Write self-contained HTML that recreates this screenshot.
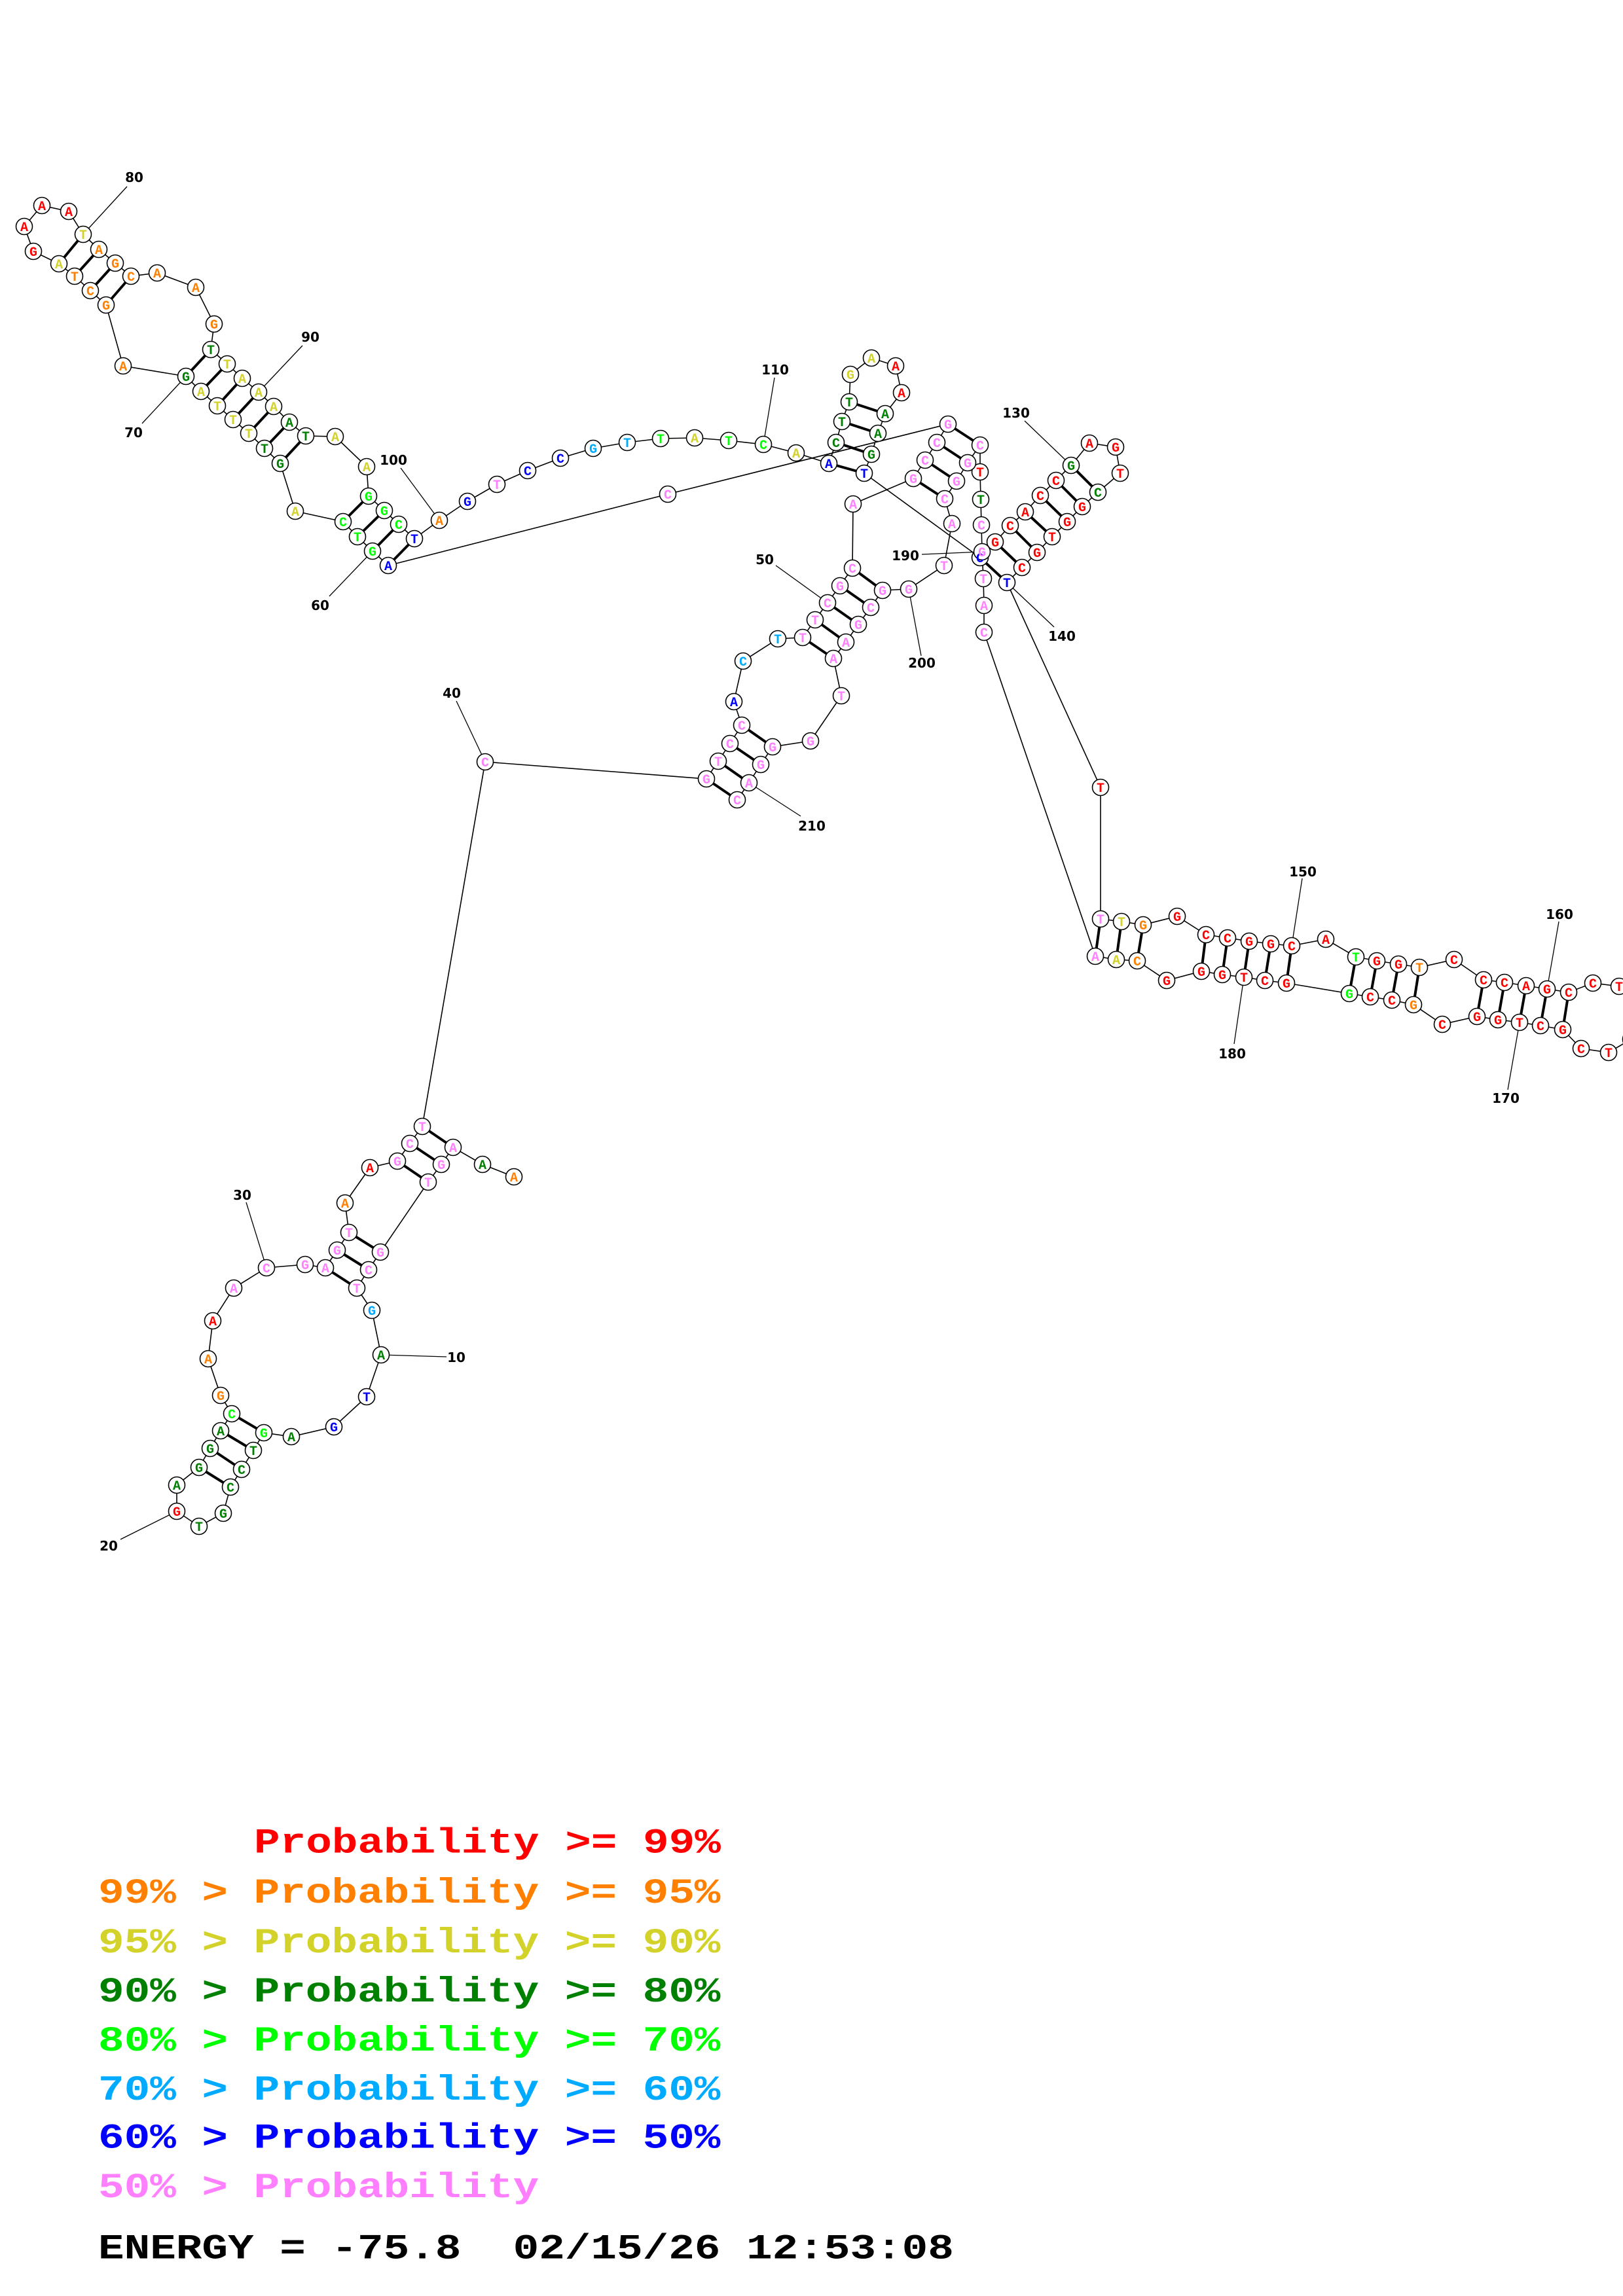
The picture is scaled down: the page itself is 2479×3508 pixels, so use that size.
<!DOCTYPE html>
<html><head><meta charset="utf-8"><style>
html,body{margin:0;padding:0;background:#fff;}
svg{display:block;}
.n{font-family:"Liberation Mono",monospace;font-weight:bold;font-size:20px;text-anchor:middle;}
.lb{font-family:"DejaVu Sans","Liberation Sans",sans-serif;font-weight:bold;font-size:20px;text-anchor:middle;fill:#000;}
.lg{font-family:"Liberation Mono",monospace;font-weight:bold;font-size:66px;white-space:pre;}
.R{fill:#ff0000}.O{fill:#ff8000}.Y{fill:#d2d22a}.D{fill:#008000}.G{fill:#00ff00}.C{fill:#00aaff}.B{fill:#0000ff}.P{fill:#ff80ff}.K{fill:#000}
</style></head><body>
<svg width="2479" height="3508" viewBox="0 0 2479 3508" xmlns="http://www.w3.org/2000/svg">
<rect width="2479" height="3508" fill="#fff"/>
<polyline fill="none" stroke="#000" stroke-width="1.6" points="785,1798 737,1779 692,1753 674,1779 654,1806 581,1913 563,1940 545,1968 568,2002 582,2070 560,2134 510,2180 445,2195 403,2189 387,2216 369,2245 352,2272 341,2312 304,2332 270,2309 270,2269 304,2242 321,2213 337,2186 354,2160 337,2132 318,2076 325,2018 357,1968 407,1937 466,1932 497,1937 515,1910 533,1883 527,1838 565,1784 607,1774 626,1747 645,1721 741,1164 1079,1190 1097,1163 1115,1136 1133,1108 1121,1072 1135,1010 1188,976 1226,974 1245,947 1264,921 1283,895 1302,868 1303,770 1395,731 1413,703 1431,676 1448,648 1020,755 593,864 569,842 546,820 524,797 451,781 428,708 404,685 380,662 356,641 332,620 307,598 284,575 188,559 162,466 138,444 114,422 90,403 51,384 37,346 64,314 105,323 127,358 151,381 176,402 200,422 240,417 299,439 327,495 322,534 347,556 370,578 395,599 418,621 442,645 467,666 512,667 560,713 563,758 587,780 609,801 633,823 671,795 714,766 759,740 806,719 856,700 906,685 958,676 1009,670 1061,669 1113,673 1166,679 1216,692 1266,708 1277,676 1286,644 1297,614 1299,572 1331,547 1368,559 1377,600 1352,632 1341,662 1331,694 1320,723 1497,852 1520,828 1543,803 1566,782 1589,757 1613,734 1636,711 1664,677 1704,683 1711,723 1677,752 1653,774 1630,797 1607,820 1584,844 1561,867 1538,890 1681,1203 1681,1404 1713,1408 1746,1413 1798,1400 1842,1428 1875,1433 1908,1438 1941,1442 1973,1445 2025,1435 2071,1462 2103,1468 2136,1473 2168,1478 2221,1466 2266,1497 2298,1501 2331,1506 2363,1511 2396,1516 2433,1502 2473,1507 2500,1545 2491,1588 2457,1608 2415,1602 2387,1573 2353,1567 2321,1562 2288,1558 2256,1553 2203,1565 2159,1535 2126,1528 2093,1523 2061,1518 1965,1502 1932,1498 1900,1493 1867,1489 1835,1484 1782,1498 1737,1468 1705,1466 1673,1461 1503,966 1503,925 1502,884 1500,843 1499,802 1498,763 1497,721 1497,680 1478,707 1461,735 1443,762 1454,800 1442,864 1388,900 1348,902 1330,928 1311,954 1292,981 1273,1006 1285,1063 1238,1132 1180,1141 1162,1168 1144,1196 1126,1222"/>
<path fill="none" stroke="#000" stroke-width="4" d="M692,1753L645,1721M674,1779L626,1747M654,1806L607,1774M581,1913L533,1883M563,1940L515,1910M545,1968L497,1937M403,2189L354,2160M387,2216L337,2186M369,2245L321,2213M352,2272L304,2242M1079,1190L1126,1222M1097,1163L1144,1196M1115,1136L1162,1168M1133,1108L1180,1141M1226,974L1273,1006M1245,947L1292,981M1264,921L1311,954M1283,895L1330,928M1302,868L1348,902M1395,731L1443,762M1413,703L1461,735M1431,676L1478,707M1448,648L1497,680M593,864L633,823M569,842L609,801M546,820L587,780M524,797L563,758M428,708L467,666M404,685L442,645M380,662L418,621M356,641L395,599M332,620L370,578M307,598L347,556M284,575L322,534M162,466L200,422M138,444L176,402M114,422L151,381M90,403L127,358M1266,708L1320,723M1277,676L1331,694M1286,644L1341,662M1297,614L1352,632M1497,852L1538,890M1520,828L1561,867M1543,803L1584,844M1566,782L1607,820M1589,757L1630,797M1613,734L1653,774M1636,711L1677,752M1681,1404L1673,1461M1713,1408L1705,1466M1746,1413L1737,1468M1842,1428L1835,1484M1875,1433L1867,1489M1908,1438L1900,1493M1941,1442L1932,1498M1973,1445L1965,1502M2071,1462L2061,1518M2103,1468L2093,1523M2136,1473L2126,1528M2168,1478L2159,1535M2266,1497L2256,1553M2298,1501L2288,1558M2331,1506L2321,1562M2363,1511L2353,1567M2396,1516L2387,1573"/>
<path fill="none" stroke="#000" stroke-width="1.3" d="M582,2070L682,2073M270,2309L184,2352M407,1937L376,1837M741,1164L697,1071M1264,921L1185,864M569,842L503,911M284,575L217,647M127,358L194,285M395,599L462,528M671,795L612,715M1166,679L1183,577M1636,711L1565,643M1538,890L1610,958M1973,1445L1989,1342M2363,1511L2381,1408M2321,1562L2303,1665M1900,1493L1885,1595M1500,843L1408,847M1388,900L1407,1002M1144,1196L1223,1247"/>
<g fill="#fff" stroke="#000" stroke-width="1.6">
<circle cx="785" cy="1798" r="12.5"/><circle cx="737" cy="1779" r="12.5"/><circle cx="692" cy="1753" r="12.5"/><circle cx="674" cy="1779" r="12.5"/><circle cx="654" cy="1806" r="12.5"/><circle cx="581" cy="1913" r="12.5"/><circle cx="563" cy="1940" r="12.5"/><circle cx="545" cy="1968" r="12.5"/><circle cx="568" cy="2002" r="12.5"/><circle cx="582" cy="2070" r="12.5"/>
<circle cx="560" cy="2134" r="12.5"/><circle cx="510" cy="2180" r="12.5"/><circle cx="445" cy="2195" r="12.5"/><circle cx="403" cy="2189" r="12.5"/><circle cx="387" cy="2216" r="12.5"/><circle cx="369" cy="2245" r="12.5"/><circle cx="352" cy="2272" r="12.5"/><circle cx="341" cy="2312" r="12.5"/><circle cx="304" cy="2332" r="12.5"/><circle cx="270" cy="2309" r="12.5"/>
<circle cx="270" cy="2269" r="12.5"/><circle cx="304" cy="2242" r="12.5"/><circle cx="321" cy="2213" r="12.5"/><circle cx="337" cy="2186" r="12.5"/><circle cx="354" cy="2160" r="12.5"/><circle cx="337" cy="2132" r="12.5"/><circle cx="318" cy="2076" r="12.5"/><circle cx="325" cy="2018" r="12.5"/><circle cx="357" cy="1968" r="12.5"/><circle cx="407" cy="1937" r="12.5"/>
<circle cx="466" cy="1932" r="12.5"/><circle cx="497" cy="1937" r="12.5"/><circle cx="515" cy="1910" r="12.5"/><circle cx="533" cy="1883" r="12.5"/><circle cx="527" cy="1838" r="12.5"/><circle cx="565" cy="1784" r="12.5"/><circle cx="607" cy="1774" r="12.5"/><circle cx="626" cy="1747" r="12.5"/><circle cx="645" cy="1721" r="12.5"/><circle cx="741" cy="1164" r="12.5"/>
<circle cx="1079" cy="1190" r="12.5"/><circle cx="1097" cy="1163" r="12.5"/><circle cx="1115" cy="1136" r="12.5"/><circle cx="1133" cy="1108" r="12.5"/><circle cx="1121" cy="1072" r="12.5"/><circle cx="1135" cy="1010" r="12.5"/><circle cx="1188" cy="976" r="12.5"/><circle cx="1226" cy="974" r="12.5"/><circle cx="1245" cy="947" r="12.5"/><circle cx="1264" cy="921" r="12.5"/>
<circle cx="1283" cy="895" r="12.5"/><circle cx="1302" cy="868" r="12.5"/><circle cx="1303" cy="770" r="12.5"/><circle cx="1395" cy="731" r="12.5"/><circle cx="1413" cy="703" r="12.5"/><circle cx="1431" cy="676" r="12.5"/><circle cx="1448" cy="648" r="12.5"/><circle cx="1020" cy="755" r="12.5"/><circle cx="593" cy="864" r="12.5"/><circle cx="569" cy="842" r="12.5"/>
<circle cx="546" cy="820" r="12.5"/><circle cx="524" cy="797" r="12.5"/><circle cx="451" cy="781" r="12.5"/><circle cx="428" cy="708" r="12.5"/><circle cx="404" cy="685" r="12.5"/><circle cx="380" cy="662" r="12.5"/><circle cx="356" cy="641" r="12.5"/><circle cx="332" cy="620" r="12.5"/><circle cx="307" cy="598" r="12.5"/><circle cx="284" cy="575" r="12.5"/>
<circle cx="188" cy="559" r="12.5"/><circle cx="162" cy="466" r="12.5"/><circle cx="138" cy="444" r="12.5"/><circle cx="114" cy="422" r="12.5"/><circle cx="90" cy="403" r="12.5"/><circle cx="51" cy="384" r="12.5"/><circle cx="37" cy="346" r="12.5"/><circle cx="64" cy="314" r="12.5"/><circle cx="105" cy="323" r="12.5"/><circle cx="127" cy="358" r="12.5"/>
<circle cx="151" cy="381" r="12.5"/><circle cx="176" cy="402" r="12.5"/><circle cx="200" cy="422" r="12.5"/><circle cx="240" cy="417" r="12.5"/><circle cx="299" cy="439" r="12.5"/><circle cx="327" cy="495" r="12.5"/><circle cx="322" cy="534" r="12.5"/><circle cx="347" cy="556" r="12.5"/><circle cx="370" cy="578" r="12.5"/><circle cx="395" cy="599" r="12.5"/>
<circle cx="418" cy="621" r="12.5"/><circle cx="442" cy="645" r="12.5"/><circle cx="467" cy="666" r="12.5"/><circle cx="512" cy="667" r="12.5"/><circle cx="560" cy="713" r="12.5"/><circle cx="563" cy="758" r="12.5"/><circle cx="587" cy="780" r="12.5"/><circle cx="609" cy="801" r="12.5"/><circle cx="633" cy="823" r="12.5"/><circle cx="671" cy="795" r="12.5"/>
<circle cx="714" cy="766" r="12.5"/><circle cx="759" cy="740" r="12.5"/><circle cx="806" cy="719" r="12.5"/><circle cx="856" cy="700" r="12.5"/><circle cx="906" cy="685" r="12.5"/><circle cx="958" cy="676" r="12.5"/><circle cx="1009" cy="670" r="12.5"/><circle cx="1061" cy="669" r="12.5"/><circle cx="1113" cy="673" r="12.5"/><circle cx="1166" cy="679" r="12.5"/>
<circle cx="1216" cy="692" r="12.5"/><circle cx="1266" cy="708" r="12.5"/><circle cx="1277" cy="676" r="12.5"/><circle cx="1286" cy="644" r="12.5"/><circle cx="1297" cy="614" r="12.5"/><circle cx="1299" cy="572" r="12.5"/><circle cx="1331" cy="547" r="12.5"/><circle cx="1368" cy="559" r="12.5"/><circle cx="1377" cy="600" r="12.5"/><circle cx="1352" cy="632" r="12.5"/>
<circle cx="1341" cy="662" r="12.5"/><circle cx="1331" cy="694" r="12.5"/><circle cx="1320" cy="723" r="12.5"/><circle cx="1497" cy="852" r="12.5"/><circle cx="1520" cy="828" r="12.5"/><circle cx="1543" cy="803" r="12.5"/><circle cx="1566" cy="782" r="12.5"/><circle cx="1589" cy="757" r="12.5"/><circle cx="1613" cy="734" r="12.5"/><circle cx="1636" cy="711" r="12.5"/>
<circle cx="1664" cy="677" r="12.5"/><circle cx="1704" cy="683" r="12.5"/><circle cx="1711" cy="723" r="12.5"/><circle cx="1677" cy="752" r="12.5"/><circle cx="1653" cy="774" r="12.5"/><circle cx="1630" cy="797" r="12.5"/><circle cx="1607" cy="820" r="12.5"/><circle cx="1584" cy="844" r="12.5"/><circle cx="1561" cy="867" r="12.5"/><circle cx="1538" cy="890" r="12.5"/>
<circle cx="1681" cy="1203" r="12.5"/><circle cx="1681" cy="1404" r="12.5"/><circle cx="1713" cy="1408" r="12.5"/><circle cx="1746" cy="1413" r="12.5"/><circle cx="1798" cy="1400" r="12.5"/><circle cx="1842" cy="1428" r="12.5"/><circle cx="1875" cy="1433" r="12.5"/><circle cx="1908" cy="1438" r="12.5"/><circle cx="1941" cy="1442" r="12.5"/><circle cx="1973" cy="1445" r="12.5"/>
<circle cx="2025" cy="1435" r="12.5"/><circle cx="2071" cy="1462" r="12.5"/><circle cx="2103" cy="1468" r="12.5"/><circle cx="2136" cy="1473" r="12.5"/><circle cx="2168" cy="1478" r="12.5"/><circle cx="2221" cy="1466" r="12.5"/><circle cx="2266" cy="1497" r="12.5"/><circle cx="2298" cy="1501" r="12.5"/><circle cx="2331" cy="1506" r="12.5"/><circle cx="2363" cy="1511" r="12.5"/>
<circle cx="2396" cy="1516" r="12.5"/><circle cx="2433" cy="1502" r="12.5"/><circle cx="2473" cy="1507" r="12.5"/><circle cx="2500" cy="1545" r="12.5"/><circle cx="2491" cy="1588" r="12.5"/><circle cx="2457" cy="1608" r="12.5"/><circle cx="2415" cy="1602" r="12.5"/><circle cx="2387" cy="1573" r="12.5"/><circle cx="2353" cy="1567" r="12.5"/><circle cx="2321" cy="1562" r="12.5"/>
<circle cx="2288" cy="1558" r="12.5"/><circle cx="2256" cy="1553" r="12.5"/><circle cx="2203" cy="1565" r="12.5"/><circle cx="2159" cy="1535" r="12.5"/><circle cx="2126" cy="1528" r="12.5"/><circle cx="2093" cy="1523" r="12.5"/><circle cx="2061" cy="1518" r="12.5"/><circle cx="1965" cy="1502" r="12.5"/><circle cx="1932" cy="1498" r="12.5"/><circle cx="1900" cy="1493" r="12.5"/>
<circle cx="1867" cy="1489" r="12.5"/><circle cx="1835" cy="1484" r="12.5"/><circle cx="1782" cy="1498" r="12.5"/><circle cx="1737" cy="1468" r="12.5"/><circle cx="1705" cy="1466" r="12.5"/><circle cx="1673" cy="1461" r="12.5"/><circle cx="1503" cy="966" r="12.5"/><circle cx="1503" cy="925" r="12.5"/><circle cx="1502" cy="884" r="12.5"/><circle cx="1500" cy="843" r="12.5"/>
<circle cx="1499" cy="802" r="12.5"/><circle cx="1498" cy="763" r="12.5"/><circle cx="1497" cy="721" r="12.5"/><circle cx="1497" cy="680" r="12.5"/><circle cx="1478" cy="707" r="12.5"/><circle cx="1461" cy="735" r="12.5"/><circle cx="1443" cy="762" r="12.5"/><circle cx="1454" cy="800" r="12.5"/><circle cx="1442" cy="864" r="12.5"/><circle cx="1388" cy="900" r="12.5"/>
<circle cx="1348" cy="902" r="12.5"/><circle cx="1330" cy="928" r="12.5"/><circle cx="1311" cy="954" r="12.5"/><circle cx="1292" cy="981" r="12.5"/><circle cx="1273" cy="1006" r="12.5"/><circle cx="1285" cy="1063" r="12.5"/><circle cx="1238" cy="1132" r="12.5"/><circle cx="1180" cy="1141" r="12.5"/><circle cx="1162" cy="1168" r="12.5"/><circle cx="1144" cy="1196" r="12.5"/>
<circle cx="1126" cy="1222" r="12.5"/>
</g>
<g class="n">
<text x="785" y="1805" class="O">A</text><text x="737" y="1786" class="D">A</text><text x="692" y="1760" class="P">A</text><text x="674" y="1786" class="P">G</text><text x="654" y="1813" class="P">T</text><text x="581" y="1920" class="P">G</text><text x="563" y="1947" class="P">C</text><text x="545" y="1975" class="P">T</text><text x="568" y="2009" class="C">G</text><text x="582" y="2077" class="D">A</text>
<text x="560" y="2141" class="B">T</text><text x="510" y="2187" class="B">G</text><text x="445" y="2202" class="D">A</text><text x="403" y="2196" class="G">G</text><text x="387" y="2223" class="D">T</text><text x="369" y="2252" class="D">C</text><text x="352" y="2279" class="D">C</text><text x="341" y="2319" class="D">G</text><text x="304" y="2339" class="D">T</text><text x="270" y="2316" class="R">G</text>
<text x="270" y="2276" class="D">A</text><text x="304" y="2249" class="D">G</text><text x="321" y="2220" class="D">G</text><text x="337" y="2193" class="D">A</text><text x="354" y="2167" class="G">C</text><text x="337" y="2139" class="O">G</text><text x="318" y="2083" class="O">A</text><text x="325" y="2025" class="R">A</text><text x="357" y="1975" class="P">A</text><text x="407" y="1944" class="P">C</text>
<text x="466" y="1939" class="P">G</text><text x="497" y="1944" class="P">A</text><text x="515" y="1917" class="P">G</text><text x="533" y="1890" class="P">T</text><text x="527" y="1845" class="O">A</text><text x="565" y="1791" class="R">A</text><text x="607" y="1781" class="P">G</text><text x="626" y="1754" class="P">C</text><text x="645" y="1728" class="P">T</text><text x="741" y="1171" class="P">C</text>
<text x="1079" y="1197" class="P">G</text><text x="1097" y="1170" class="P">T</text><text x="1115" y="1143" class="P">C</text><text x="1133" y="1115" class="P">C</text><text x="1121" y="1079" class="B">A</text><text x="1135" y="1017" class="C">C</text><text x="1188" y="983" class="C">T</text><text x="1226" y="981" class="P">T</text><text x="1245" y="954" class="P">T</text><text x="1264" y="928" class="P">C</text>
<text x="1283" y="902" class="P">G</text><text x="1302" y="875" class="P">C</text><text x="1303" y="777" class="P">A</text><text x="1395" y="738" class="P">G</text><text x="1413" y="710" class="P">C</text><text x="1431" y="683" class="P">C</text><text x="1448" y="655" class="P">G</text><text x="1020" y="762" class="P">C</text><text x="593" y="871" class="B">A</text><text x="569" y="849" class="G">G</text>
<text x="546" y="827" class="G">T</text><text x="524" y="804" class="G">C</text><text x="451" y="788" class="Y">A</text><text x="428" y="715" class="D">G</text><text x="404" y="692" class="D">T</text><text x="380" y="669" class="Y">T</text><text x="356" y="648" class="Y">T</text><text x="332" y="627" class="Y">T</text><text x="307" y="605" class="Y">A</text><text x="284" y="582" class="D">G</text>
<text x="188" y="566" class="O">A</text><text x="162" y="473" class="O">G</text><text x="138" y="451" class="O">C</text><text x="114" y="429" class="O">T</text><text x="90" y="410" class="Y">A</text><text x="51" y="391" class="R">G</text><text x="37" y="353" class="R">A</text><text x="64" y="321" class="R">A</text><text x="105" y="330" class="R">A</text><text x="127" y="365" class="Y">T</text>
<text x="151" y="388" class="O">A</text><text x="176" y="409" class="O">G</text><text x="200" y="429" class="O">C</text><text x="240" y="424" class="O">A</text><text x="299" y="446" class="O">A</text><text x="327" y="502" class="O">G</text><text x="322" y="541" class="D">T</text><text x="347" y="563" class="Y">T</text><text x="370" y="585" class="Y">A</text><text x="395" y="606" class="Y">A</text>
<text x="418" y="628" class="Y">A</text><text x="442" y="652" class="D">A</text><text x="467" y="673" class="D">T</text><text x="512" y="674" class="Y">A</text><text x="560" y="720" class="Y">A</text><text x="563" y="765" class="G">G</text><text x="587" y="787" class="G">G</text><text x="609" y="808" class="G">C</text><text x="633" y="830" class="B">T</text><text x="671" y="802" class="O">A</text>
<text x="714" y="773" class="B">G</text><text x="759" y="747" class="P">T</text><text x="806" y="726" class="B">C</text><text x="856" y="707" class="B">C</text><text x="906" y="692" class="C">G</text><text x="958" y="683" class="C">T</text><text x="1009" y="677" class="G">T</text><text x="1061" y="676" class="Y">A</text><text x="1113" y="680" class="G">T</text><text x="1166" y="686" class="G">C</text>
<text x="1216" y="699" class="Y">A</text><text x="1266" y="715" class="B">A</text><text x="1277" y="683" class="D">C</text><text x="1286" y="651" class="D">T</text><text x="1297" y="621" class="D">T</text><text x="1299" y="579" class="Y">G</text><text x="1331" y="554" class="Y">A</text><text x="1368" y="566" class="R">A</text><text x="1377" y="607" class="R">A</text><text x="1352" y="639" class="D">A</text>
<text x="1341" y="669" class="D">A</text><text x="1331" y="701" class="D">G</text><text x="1320" y="730" class="B">T</text><text x="1497" y="859" class="B">C</text><text x="1520" y="835" class="R">G</text><text x="1543" y="810" class="R">C</text><text x="1566" y="789" class="R">A</text><text x="1589" y="764" class="R">C</text><text x="1613" y="741" class="R">C</text><text x="1636" y="718" class="D">G</text>
<text x="1664" y="684" class="R">A</text><text x="1704" y="690" class="R">G</text><text x="1711" y="730" class="R">T</text><text x="1677" y="759" class="D">C</text><text x="1653" y="781" class="R">G</text><text x="1630" y="804" class="R">G</text><text x="1607" y="827" class="R">T</text><text x="1584" y="851" class="R">G</text><text x="1561" y="874" class="R">C</text><text x="1538" y="897" class="B">T</text>
<text x="1681" y="1210" class="R">T</text><text x="1681" y="1411" class="P">T</text><text x="1713" y="1415" class="Y">T</text><text x="1746" y="1420" class="O">G</text><text x="1798" y="1407" class="R">G</text><text x="1842" y="1435" class="R">C</text><text x="1875" y="1440" class="R">C</text><text x="1908" y="1445" class="R">G</text><text x="1941" y="1449" class="R">G</text><text x="1973" y="1452" class="R">C</text>
<text x="2025" y="1442" class="R">A</text><text x="2071" y="1469" class="G">T</text><text x="2103" y="1475" class="R">G</text><text x="2136" y="1480" class="R">G</text><text x="2168" y="1485" class="O">T</text><text x="2221" y="1473" class="R">C</text><text x="2266" y="1504" class="R">C</text><text x="2298" y="1508" class="R">C</text><text x="2331" y="1513" class="R">A</text><text x="2363" y="1518" class="R">G</text>
<text x="2396" y="1523" class="R">C</text><text x="2433" y="1509" class="R">C</text><text x="2473" y="1514" class="R">T</text><text x="2500" y="1552" class="R">G</text><text x="2491" y="1595" class="R">C</text><text x="2457" y="1615" class="R">T</text><text x="2415" y="1609" class="R">C</text><text x="2387" y="1580" class="R">G</text><text x="2353" y="1574" class="R">C</text><text x="2321" y="1569" class="R">T</text>
<text x="2288" y="1565" class="R">G</text><text x="2256" y="1560" class="R">G</text><text x="2203" y="1572" class="R">C</text><text x="2159" y="1542" class="O">G</text><text x="2126" y="1535" class="R">C</text><text x="2093" y="1530" class="R">C</text><text x="2061" y="1525" class="G">G</text><text x="1965" y="1509" class="R">G</text><text x="1932" y="1505" class="R">C</text><text x="1900" y="1500" class="R">T</text>
<text x="1867" y="1496" class="R">G</text><text x="1835" y="1491" class="R">G</text><text x="1782" y="1505" class="R">G</text><text x="1737" y="1475" class="O">C</text><text x="1705" y="1473" class="Y">A</text><text x="1673" y="1468" class="P">A</text><text x="1503" y="973" class="P">C</text><text x="1503" y="932" class="P">A</text><text x="1502" y="891" class="P">T</text><text x="1500" y="850" class="P">G</text>
<text x="1499" y="809" class="P">C</text><text x="1498" y="770" class="D">T</text><text x="1497" y="728" class="R">T</text><text x="1497" y="687" class="P">C</text><text x="1478" y="714" class="P">G</text><text x="1461" y="742" class="P">G</text><text x="1443" y="769" class="P">C</text><text x="1454" y="807" class="P">A</text><text x="1442" y="871" class="P">T</text><text x="1388" y="907" class="P">G</text>
<text x="1348" y="909" class="P">G</text><text x="1330" y="935" class="P">C</text><text x="1311" y="961" class="P">G</text><text x="1292" y="988" class="P">A</text><text x="1273" y="1013" class="P">A</text><text x="1285" y="1070" class="P">T</text><text x="1238" y="1139" class="P">G</text><text x="1180" y="1148" class="P">G</text><text x="1162" y="1175" class="P">G</text><text x="1144" y="1203" class="P">A</text>
<text x="1126" y="1229" class="P">C</text>
</g>
<g class="lb">
<text x="697" y="2081">10</text><text x="166" y="2369">20</text><text x="370" y="1833">30</text><text x="690" y="1066">40</text><text x="1168" y="862">50</text><text x="489" y="932">60</text><text x="204" y="668">70</text><text x="205" y="278">80</text><text x="474" y="522">90</text><text x="601" y="710">100</text>
<text x="1184" y="572">110</text><text x="1552" y="638">130</text><text x="1622" y="979">140</text><text x="1990" y="1339">150</text><text x="2382" y="1404">160</text><text x="2300" y="1685">170</text><text x="1882" y="1617">180</text><text x="1383" y="856">190</text><text x="1408" y="1020">200</text><text x="1240" y="1269">210</text>
</g>
<g class="lg" transform="scale(1,0.82)">
<text x="388" y="3452" class="R">Probability &gt;= 99%</text>
<text x="150" y="3545" class="O">99% &gt; Probability &gt;= 95%</text>
<text x="150" y="3638" class="Y">95% &gt; Probability &gt;= 90%</text>
<text x="150" y="3729" class="D">90% &gt; Probability &gt;= 80%</text>
<text x="150" y="3821" class="G">80% &gt; Probability &gt;= 70%</text>
<text x="150" y="3912" class="C">70% &gt; Probability &gt;= 60%</text>
<text x="150" y="4002" class="B">60% &gt; Probability &gt;= 50%</text>
<text x="150" y="4094" class="P">50% &gt; Probability</text>
<text x="150" y="4208" class="K" xml:space="preserve">ENERGY = -75.8&#160; 02/15/26 12:53:08</text>
</g>
</svg>
</body></html>
